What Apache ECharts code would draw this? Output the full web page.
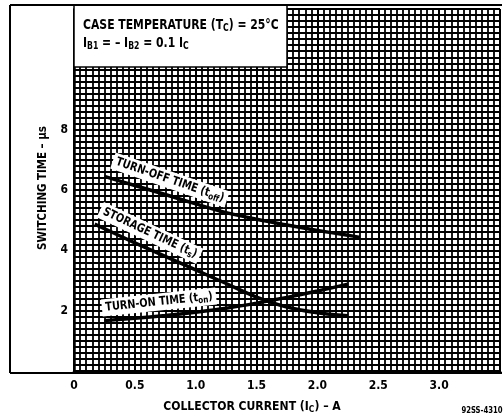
<!DOCTYPE html>
<html>
<head>
<meta charset="utf-8">
<script src="https://cdn.jsdelivr.net/npm/echarts@6/dist/echarts.min.js"></script>
<style>
html,body{margin:0;padding:0;background:#fff;}
#c{width:503px;height:416px;}
</style>
</head>
<body>
<div id="c"></div>
<script>
// ---- data ----
const currentToff = [0.25, 0.5, 0.75, 1.0, 1.25, 1.5, 1.75, 2.0, 2.25, 2.35];
const turnOffTime = [6.45, 6.15, 5.85, 5.54, 5.25, 5.03, 4.84, 4.66, 4.50, 4.43];
const currentTs = [0.17, 0.5, 0.75, 1.0, 1.25, 1.5, 1.75, 2.0, 2.25];
const storageTime = [4.87, 4.25, 3.80, 3.35, 2.90, 2.45, 2.12, 1.93, 1.83];
const currentTon = [0.25, 0.5, 0.75, 1.0, 1.25, 1.5, 1.75, 2.0, 2.25];
const turnOnTime = [1.67, 1.75, 1.84, 1.95, 2.08, 2.25, 2.44, 2.65, 2.88];
const xTickLabels = ['0', '0.5', '1.0', '1.5', '2.0', '2.5', '3.0'];
const yTickLabels = ['2', '4', '6', '8'];

const FONT = '"DejaVu Sans Condensed", "Liberation Sans Narrow", sans-serif';
const pair = (xs, ys) => xs.map((x, i) => [x, ys[i]]);

const chart = echarts.init(document.getElementById('c'), null, {renderer: 'canvas'});

const subStyle = (size, pad) => ({fontSize: size, fontWeight: 'bold', fontFamily: FONT, color: '#000', padding: [pad, 0, 0, 0]});
const main = (size) => ({fontSize: size, fontWeight: 'bold', fontFamily: FONT, color: '#000'});

function curveLabel(x, y, rot, richText, size) {
  return {
    type: 'text', x: x, y: y, rotation: rot, scaleX: 0.9, z: 20,
    style: {
      text: richText, align: 'center', verticalAlign: 'middle',
      backgroundColor: '#fff', padding: [1, 4, 1, 4],
      rich: {m: main(size), s: subStyle(9, 6)}
    }
  };
}

const option = {
  animation: false,
  backgroundColor: '#fff',
  grid: {left: 74, right: 2, top: 9, bottom: 45},
  xAxis: {
    type: 'value', min: 0, max: 3.5, interval: 0.5,
    axisLine: {show: true, onZero: false, lineStyle: {color: '#000', width: 2.5}},
    axisTick: {show: false},
    minorTick: {show: false, splitNumber: 10},
    splitLine: {show: true, lineStyle: {color: '#000', width: 2}},
    minorSplitLine: {show: true, lineStyle: {color: '#000', width: 1.8}},
    axisLabel: {
      margin: 9, color: '#000', fontSize: 12, fontWeight: 'bold', fontFamily: FONT,
      formatter: (v) => {
        const i = Math.round(v / 0.5);
        return (Math.abs(v - i * 0.5) < 1e-6 && i < xTickLabels.length) ? xTickLabels[i] : '';
      }
    }
  },
  yAxis: {
    type: 'value', min: 0, max: 12, interval: 2,
    axisLine: {show: true, lineStyle: {color: '#000', width: 2.5}},
    axisTick: {show: false},
    minorTick: {show: false, splitNumber: 10},
    splitLine: {show: true, lineStyle: {color: '#000', width: 2}},
    minorSplitLine: {show: true, lineStyle: {color: '#000', width: 1.8}},
    axisLabel: {
      margin: 6, color: '#000', fontSize: 12, fontWeight: 'bold', fontFamily: FONT,
      formatter: (v) => {
        const s = String(v);
        return yTickLabels.indexOf(s) >= 0 ? s : '';
      }
    }
  },
  series: [
    {name: 'Turn-off time', type: 'line', data: pair(currentToff, turnOffTime), smooth: 0.3,
     showSymbol: false, lineStyle: {color: '#000', width: 3.5}, z: 10},
    {name: 'Storage time', type: 'line', data: pair(currentTs, storageTime), smooth: 0.3,
     showSymbol: false, lineStyle: {color: '#000', width: 3.5}, z: 10},
    {name: 'Turn-on time', type: 'line', data: pair(currentTon, turnOnTime), smooth: 0.3,
     showSymbol: false, lineStyle: {color: '#000', width: 3.5}, z: 10}
  ],
  graphic: [
    // outer frame
    {type: 'line', shape: {x1: 10, y1: 5, x2: 10, y2: 373}, style: {stroke: '#000', lineWidth: 2}, z: 30},
    {type: 'line', shape: {x1: 10, y1: 373, x2: 502, y2: 373}, style: {stroke: '#000', lineWidth: 2}, z: 30},
    {type: 'line', shape: {x1: 10, y1: 5, x2: 502, y2: 5}, style: {stroke: '#000', lineWidth: 2}, z: 30},
    // annotation box
    {type: 'rect', shape: {x: 74, y: 5, width: 213, height: 62},
     style: {fill: '#fff', stroke: '#000', lineWidth: 1.5}, z: 25},
    {type: 'text', x: 83, y: 25, scaleX: 0.86, z: 26,
     style: {text: '{m|CASE TEMPERATURE (T}{s|C}{m|) = 25°C}', verticalAlign: 'middle',
             rich: {m: main(14), s: subStyle(10, 7)}}},
    {type: 'text', x: 83, y: 43, scaleX: 0.86, z: 26,
     style: {text: '{m|I}{s|B1}{m| = – I}{s|B2}{m| = 0.1 I}{s|C}', verticalAlign: 'middle',
             rich: {m: main(14), s: subStyle(10, 7)}}},
    // curve labels
    curveLabel(170, 180, -0.33, '{m|TURN-OFF TIME (t}{s|off}{m|)}', 12),
    curveLabel(150, 233, -0.44, '{m|STORAGE TIME (t}{s|s}{m|)}', 12),
    curveLabel(159, 302, 0.105, '{m|TURN-ON TIME (t}{s|on}{m|)}', 12),
    // axis titles
    {type: 'text', x: 43, y: 188, rotation: Math.PI / 2, scaleX: 0.95, z: 26,
     style: {text: 'SWITCHING TIME – µs', align: 'center', verticalAlign: 'middle',
             fontSize: 12, fontWeight: 'bold', fontFamily: FONT, fill: '#000'}},
    {type: 'text', x: 252, y: 407, scaleX: 0.93, z: 26,
     style: {text: '{m|COLLECTOR CURRENT (I}{s|C}{m|) – A}', align: 'center', verticalAlign: 'middle',
             rich: {m: main(13), s: subStyle(9, 6)}}},
    {type: 'text', x: 482, y: 411, scaleX: 0.85, z: 26,
     style: {text: '92SS-4310', align: 'center', verticalAlign: 'middle',
             fontSize: 9, fontWeight: 'bold', fontFamily: FONT, fill: '#000'}}
  ]
};
chart.setOption(option);
</script>
</body>
</html>
